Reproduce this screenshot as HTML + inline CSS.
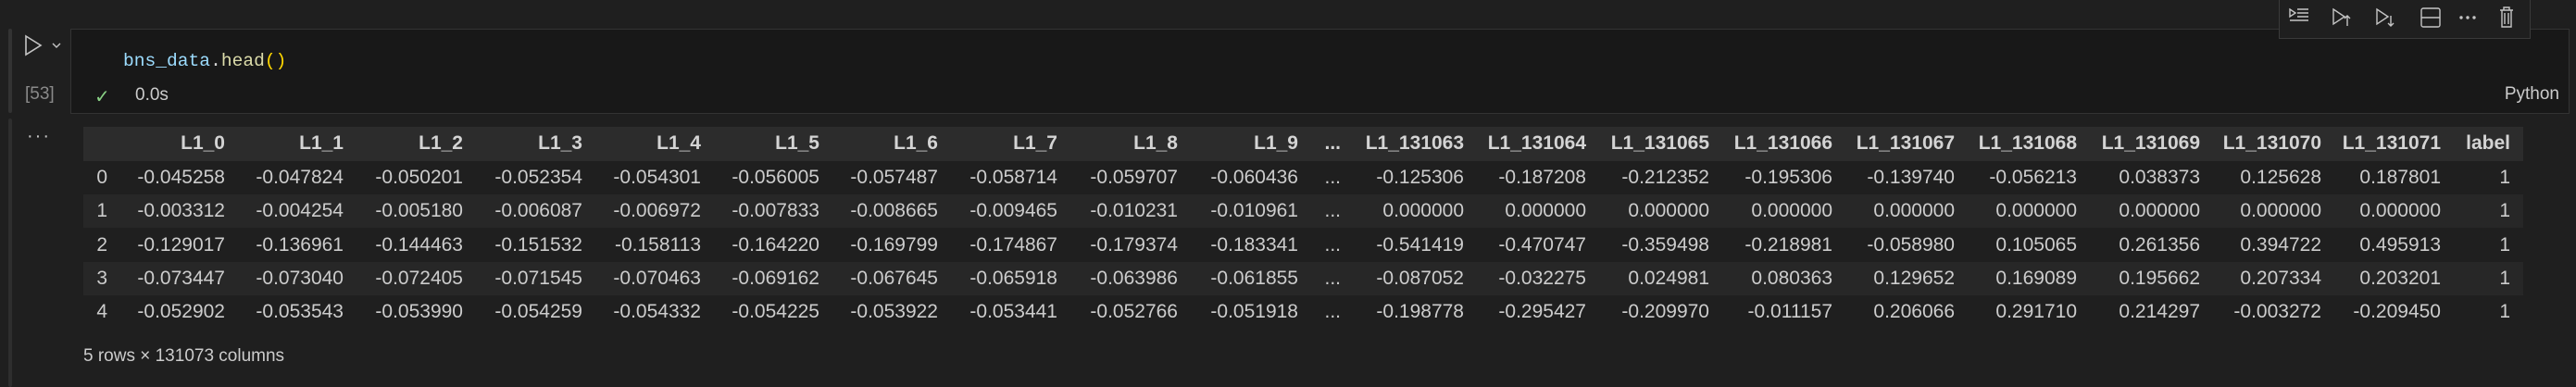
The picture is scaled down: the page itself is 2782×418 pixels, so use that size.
<!DOCTYPE html>
<html><head><meta charset="utf-8">
<style>
body{margin:0;width:2782px;height:418px;background:#1f1f1f;overflow:hidden;position:relative;font-family:"Liberation Sans",sans-serif;color:#cccccc}
.a{position:absolute}
.c{position:absolute;white-space:nowrap;font-size:21px;line-height:36px;text-align:right}
.h{font-weight:bold;color:#d4d4d4}
</style></head><body>
<div class="a" style="left:9px;top:31px;width:4px;height:91px;background:#333;border-radius:2px"></div>
<div class="a" style="left:9px;top:128px;width:4px;height:290px;background:#2e2e2e;border-radius:2px"></div>
<svg class="a" style="left:24px;top:37px" width="48" height="26"><path d="M4 2 L20 12 L4 22 Z" fill="none" stroke="#c5c5c5" stroke-width="1.6"/><path d="M33 10 L37 14 L41 10" fill="none" stroke="#c5c5c5" stroke-width="1.4"/></svg>
<div class="a" style="left:27px;top:91px;font-size:19px;color:#8a8a8a">[53]</div>
<div class="a" style="left:76px;top:31px;width:2697px;height:90px;background:#181818;border:1px solid #333"></div>
<div class="a" style="left:133px;top:55px;font-family:'Liberation Mono',monospace;font-size:19.6px"><span style="color:#9cdcfe">bns_data</span><span style="color:#d4d4d4">.</span><span style="color:#dcdcaa">head</span><span style="color:#ffd700">()</span></div>
<div class="a" style="left:102px;top:92px;font-size:20px;color:#89d185">✓</div>
<div class="a" style="left:146px;top:92px;font-size:19px;color:#cccccc">0.0s</div>
<div class="a" style="right:18px;top:91px;font-size:19px;color:#cccccc">Python</div>
<div class="a" style="left:2461px;top:-1px;width:270px;height:41px;background:#1f1f1f;border:1px solid #3a3a3a"></div>
<svg class="a" style="left:2461px;top:0" width="270" height="40" fill="none" stroke="#c5c5c5" stroke-width="1.4">
<path d="M12 10 L18 14 L12 18 Z M20 10 H32 M20 14 H32 M20 18 H32 M12 22 H32"/>
<path d="M59 10 L71 18 L59 26 Z M74 17 V28 M71 20 L74 17 L77 20"/>
<path d="M106 10 L118 18 L106 26 Z M121 17 V28 M118 25 L121 28 L124 25"/>
<rect x="154" y="9" width="20" height="20" rx="2"/><path d="M154 19 H174"/>
<circle cx="197" cy="19" r="1" fill="#c5c5c5"/><circle cx="204" cy="19" r="1" fill="#c5c5c5"/><circle cx="211" cy="19" r="1" fill="#c5c5c5"/>
<path d="M239 11 H253 M243 11 V8 H249 V11 M241 11 V29 H251 V11 M244 14 V26 M248 14 V26"/>
</svg>
<div class="a" style="left:29px;top:136px;font-size:20px;color:#c5c5c5;letter-spacing:2px">···</div>
<div class="a" style="left:90px;top:137px;width:2635px;height:37px;background:#2c2c2c"></div>
<div class="a" style="left:90px;top:210px;width:2635px;height:36px;background:#272727"></div>
<div class="a" style="left:90px;top:283px;width:2635px;height:36px;background:#272727"></div>
<div class="a" style="left:90px;top:374px;font-size:19px;color:#cccccc">5 rows × 131073 columns</div>
<div id="tbl"></div>
<script>
const headers=["L1_0","L1_1","L1_2","L1_3","L1_4","L1_5","L1_6","L1_7","L1_8","L1_9","...","L1_131063","L1_131064","L1_131065","L1_131066","L1_131067","L1_131068","L1_131069","L1_131070","L1_131071","label"];
const rights=[243,371,500,629,757,885,1013,1142,1272,1402,1448,1581,1713,1846,1979,2111,2243,2376,2507,2636,2711];
const rows=[
["-0.045258","-0.047824","-0.050201","-0.052354","-0.054301","-0.056005","-0.057487","-0.058714","-0.059707","-0.060436","...","-0.125306","-0.187208","-0.212352","-0.195306","-0.139740","-0.056213","0.038373","0.125628","0.187801","1"],
["-0.003312","-0.004254","-0.005180","-0.006087","-0.006972","-0.007833","-0.008665","-0.009465","-0.010231","-0.010961","...","0.000000","0.000000","0.000000","0.000000","0.000000","0.000000","0.000000","0.000000","0.000000","1"],
["-0.129017","-0.136961","-0.144463","-0.151532","-0.158113","-0.164220","-0.169799","-0.174867","-0.179374","-0.183341","...","-0.541419","-0.470747","-0.359498","-0.218981","-0.058980","0.105065","0.261356","0.394722","0.495913","1"],
["-0.073447","-0.073040","-0.072405","-0.071545","-0.070463","-0.069162","-0.067645","-0.065918","-0.063986","-0.061855","...","-0.087052","-0.032275","0.024981","0.080363","0.129652","0.169089","0.195662","0.207334","0.203201","1"],
["-0.052902","-0.053543","-0.053990","-0.054259","-0.054332","-0.054225","-0.053922","-0.053441","-0.052766","-0.051918","...","-0.198778","-0.295427","-0.209970","-0.011157","0.206066","0.291710","0.214297","-0.003272","-0.209450","1"]];
const tbl=document.getElementById('tbl');
function cell(txt,right,top,cls){const d=document.createElement('div');d.className='c '+cls;d.textContent=txt;d.style.right=(2782-right)+'px';d.style.top=top+'px';tbl.appendChild(d);return d;}
headers.forEach((h,i)=>{const d=cell(h,rights[i],137,'h');

});
rows.forEach((r,ri)=>{const top=174+ri*36.3;
const ix=cell(String(ri),116,top,'');


r.forEach((v,i)=>{const d=cell(v,rights[i],top,'');

});});
</script>
</body></html>
